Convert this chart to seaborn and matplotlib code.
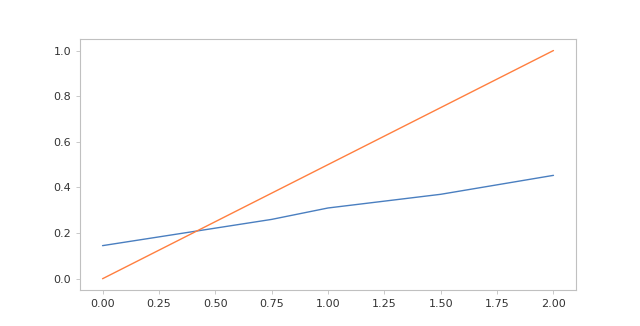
import matplotlib
matplotlib.use("Agg")
import matplotlib.pyplot as plt
import seaborn as sns
import pandas as pd

blue_x = [0.0, 0.75, 1.0, 1.5, 2.0]
blue_y = [0.145, 0.26, 0.31, 0.37, 0.453]
orange_x = [0.0, 2.0]
orange_y = [0.0, 1.0]

sns.set_style("white")
fig, ax = plt.subplots(figsize=(6.4, 3.26), dpi=100)
sns.lineplot(x=blue_x, y=blue_y, ax=ax, color="#4a7fc0", linewidth=1.0)
sns.lineplot(x=orange_x, y=orange_y, ax=ax, color="#ff7f3f", linewidth=1.0)
ax.set_xticks([0, 0.25, 0.5, 0.75, 1.0, 1.25, 1.5, 1.75, 2.0])
ax.set_xticklabels(["0.00", "0.25", "0.50", "0.75", "1.00", "1.25", "1.50", "1.75", "2.00"])
ax.set_yticks([0, 0.2, 0.4, 0.6, 0.8, 1.0])
ax.set_yticklabels(["0.0", "0.2", "0.4", "0.6", "0.8", "1.0"])
for s in ax.spines.values():
    s.set_color("#c0c0c0")
    s.set_linewidth(0.8)
ax.tick_params(axis="both", length=3, width=0.6, color="#c0c0c0", labelsize=8, labelcolor="#333333", bottom=True, left=True)
fig.subplots_adjust(left=0.125, right=0.9, bottom=0.11, top=0.88)
fig.savefig("out.png", dpi=100)
